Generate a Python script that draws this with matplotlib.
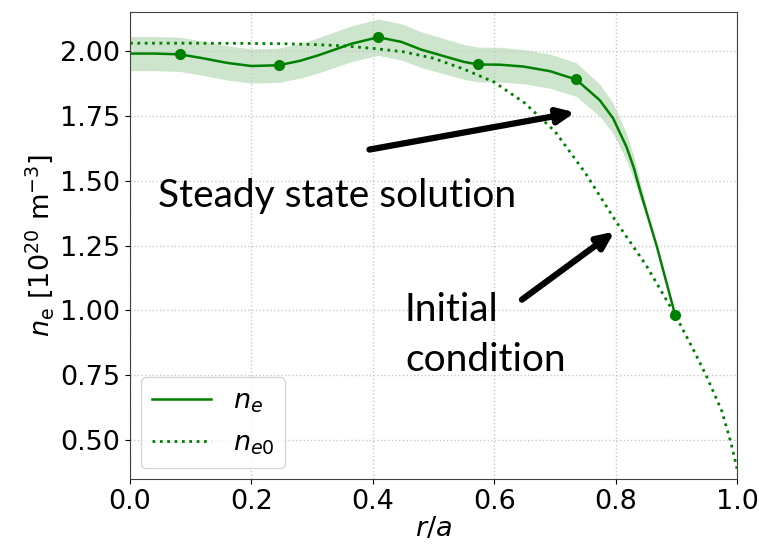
import matplotlib
matplotlib.use("Agg")
import matplotlib.pyplot as plt

plt.rcParams['font.family'] = ['DejaVu Sans']
plt.rcParams['mathtext.fontset'] = 'dejavusans'

# steady state solution n_e
r_ne = [0.0, 0.04, 0.082, 0.12, 0.16, 0.2, 0.245, 0.28, 0.31, 0.365, 0.409,
        0.447, 0.48, 0.52, 0.55, 0.573, 0.61, 0.648, 0.692, 0.735, 0.774,
        0.796, 0.818, 0.83, 0.84, 0.868, 0.898]
ne = [1.99, 1.99, 1.987, 1.972, 1.954, 1.942, 1.945, 1.962, 1.983, 2.028, 2.053,
      2.035, 2.005, 1.978, 1.958, 1.948, 1.947, 1.94, 1.922, 1.89, 1.81,
      1.74, 1.63, 1.55, 1.465, 1.246, 0.983]

# uncertainty band (half width), stops near r/a = 0.85
r_band = [0.0, 0.04, 0.082, 0.12, 0.16, 0.2, 0.245, 0.28, 0.31, 0.365, 0.409,
          0.447, 0.48, 0.52, 0.55, 0.573, 0.61, 0.648, 0.692, 0.735, 0.774,
          0.796, 0.818, 0.83, 0.84, 0.85]
ne_band = [1.99, 1.99, 1.987, 1.972, 1.954, 1.942, 1.945, 1.962, 1.983, 2.028, 2.053,
           2.035, 2.005, 1.978, 1.958, 1.948, 1.947, 1.94, 1.922, 1.89, 1.81,
           1.74, 1.63, 1.55, 1.465, 1.39]
err = [0.066, 0.066, 0.066, 0.066, 0.066, 0.066, 0.066, 0.067, 0.068, 0.069, 0.07,
       0.07, 0.069, 0.068, 0.067, 0.067, 0.067, 0.066, 0.066, 0.065, 0.062,
       0.058, 0.052, 0.045, 0.035, 0.015]

# markers
r_pts = [0.082, 0.245, 0.409, 0.573, 0.735, 0.898]
ne_pts = [1.987, 1.945, 2.053, 1.948, 1.89, 0.983]

# initial condition n_e0
r_ne0 = [0.0, 0.1, 0.2, 0.25, 0.3, 0.35, 0.4, 0.45, 0.5, 0.55, 0.6, 0.65, 0.7,
         0.75, 0.8, 0.85, 0.9, 0.93, 0.95, 0.975, 0.99, 1.0]
ne0 = [2.03, 2.03, 2.029, 2.028, 2.025, 2.02, 2.01, 1.997, 1.972, 1.93, 1.88, 1.80, 1.69,
       1.53, 1.345, 1.175, 0.975, 0.84, 0.745, 0.612, 0.49, 0.39]

col = "green"
fs = 19.5

fig = plt.figure(figsize=(7.59, 5.48), dpi=100)
ax = fig.add_axes([0.1713, 0.126, 0.7997, 0.852])

ax.fill_between(r_band, [a - b for a, b in zip(ne_band, err)],
                [a + b for a, b in zip(ne_band, err)], color=col, alpha=0.2, lw=0)
ax.plot(r_ne, ne, color=col, lw=1.8, label=r"$n_e$")
ax.plot(r_pts, ne_pts, "o", color=col, ms=7)
ax.plot(r_ne0, ne0, ":", color=col, lw=2, label=r"$n_{e0}$")

ax.set_xlim(0, 1.0)
ax.set_ylim(0.35, 2.15)
ax.set_xticks([0.0, 0.2, 0.4, 0.6, 0.8, 1.0])
ax.set_yticks([0.5, 0.75, 1.0, 1.25, 1.5, 1.75, 2.0])
ax.set_yticklabels(["0.50", "0.75", "1.00", "1.25", "1.50", "1.75", "2.00"])
ax.tick_params(labelsize=fs)
ax.grid(ls=":", color="#c8c8c8", lw=1)
for s in ax.spines.values():
    s.set_color("#404040")

ax.set_xlabel(r"$r/a$", fontsize=fs, labelpad=1)
ax.set_ylabel(r"$n_\mathrm{e}$ [$10^{20}$ m$^{-3}$]", fontsize=fs, labelpad=3)
ax.legend(loc="lower left", fontsize=fs, handlelength=2.2, borderaxespad=0.4,
          labelspacing=0.6)

# overlay annotations
ax.text(0.046, 1.40, "Steady state solution", fontsize=28, family="Lato")
ax.text(0.453, 0.765, "Initial\ncondition", fontsize=28, family="Lato", linespacing=1.5)
ax.annotate("", xy=(0.738, 1.765), xytext=(0.39, 1.618),
            arrowprops=dict(arrowstyle="-|>,head_length=1.0,head_width=0.45", color="black", lw=4.5))
ax.annotate("", xy=(0.802, 1.31), xytext=(0.642, 1.035),
            arrowprops=dict(arrowstyle="-|>,head_length=1.0,head_width=0.45", color="black", lw=4.5))

fig.savefig("out.png", dpi=100)
